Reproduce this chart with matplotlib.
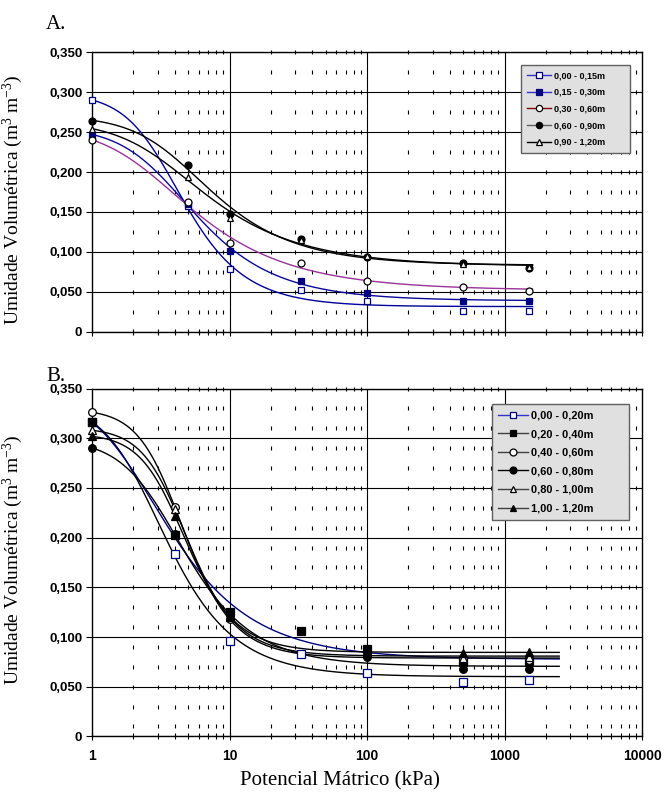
import numpy as np
import matplotlib
matplotlib.use("Agg")
import matplotlib.pyplot as plt
from matplotlib.lines import Line2D
from matplotlib.ticker import FixedLocator, NullFormatter

# ---------------- data ----------------
suction_a = [1, 5, 10, 33, 100, 500, 1500]
labels_a = ["0,00 - 0,15m", "0,15 - 0,30m", "0,30 - 0,60m", "0,60 - 0,90m", "0,90 - 1,20m"]
a_000_015 = [0.290, 0.157, 0.078, 0.052, 0.039, 0.026, 0.026]
a_015_030 = [0.247, 0.160, 0.101, 0.064, 0.048, 0.038, 0.038]
a_030_060 = [0.240, 0.162, 0.111, 0.086, 0.064, 0.056, 0.051]
a_060_090 = [0.264, 0.209, 0.147, 0.116, 0.093, 0.086, 0.080]
a_090_120 = [0.254, 0.194, 0.143, 0.115, 0.095, 0.085, 0.081]

suction_b = [1, 4, 10, 33, 100, 500, 1500]
labels_b = ["0,00 - 0,20m", "0,20 - 0,40m", "0,40 - 0,60m", "0,60 - 0,80m", "0,80 - 1,00m", "1,00 - 1,20m"]
nan = np.nan
b_000_020 = [0.316, 0.1835, 0.0955, 0.083, 0.064, 0.055, 0.057]
b_020_040 = [0.316, 0.203, 0.125, 0.106, 0.088, 0.075, 0.076]
b_040_060 = [0.326, 0.231, 0.118, nan, 0.082, 0.078, 0.077]
b_060_080 = [0.290, 0.204, 0.122, nan, 0.080, 0.068, 0.068]
b_080_100 = [0.308, 0.2285, 0.120, nan, 0.084, 0.079, 0.080]
b_100_120 = [0.302, 0.222, 0.121, nan, 0.085, 0.084, 0.085]

yticks = [0, 0.05, 0.10, 0.15, 0.20, 0.25, 0.30, 0.35]
ytick_labels = ["0", "0,050", "0,100", "0,150", "0,200", "0,250", "0,300", "0,350"]
xticks = [1, 10, 100, 1000, 10000]
xtick_labels = ["1", "10", "100", "1000", "10000"]


# ------------- van Genuchten fit (least squares on the read points) -------------
def vg_fit(h, y):
    h = np.asarray(h, float)
    y = np.asarray(y, float)
    m = ~np.isnan(y)
    h, y = h[m], y[m]
    A = np.logspace(-2.5, 1, 260)[:, None, None]
    N = np.linspace(1.05, 6, 260)[None, :, None]
    f = (1 + (A * h) ** N) ** (-(1 - 1 / N))
    g = 1 - f
    Sgg = (g * g).sum(-1); Sff = (f * f).sum(-1); Sgf = (g * f).sum(-1)
    Sgy = (g * y).sum(-1); Sfy = (f * y).sum(-1)
    det = Sgg * Sff - Sgf ** 2
    with np.errstate(all="ignore"):
        tr = (Sff * Sgy - Sgf * Sfy) / det
        ts = (Sgg * Sfy - Sgf * Sgy) / det
        res = ((tr[..., None] * g + ts[..., None] * f - y) ** 2).sum(-1)
    res = np.where((tr >= 0) & np.isfinite(res), res, np.inf)
    i, j = np.unravel_index(np.argmin(res), res.shape)
    return tr[i, j], ts[i, j], A[i, 0, 0], N[0, j, 0]


def vg(h, p):
    tr, ts, a, n = p
    return tr + (ts - tr) * (1 + (a * h) ** n) ** (-(1 - 1 / n))


# ---------------- figure ----------------
plt.rcParams["font.family"] = ["Liberation Sans", "DejaVu Sans"]
fig = plt.figure(figsize=(6.64, 7.92), dpi=100)
W, H = 664, 792
axA = fig.add_axes([92 / W, 1 - 331.7 / H, 550 / W, 279.3 / H])
axB = fig.add_axes([92 / W, 1 - 736.4 / H, 550 / W, 347.9 / H])

minor_x = [k * 10 ** d for d in range(0, 4) for k in range(2, 10)]


def style_axis(ax, yminor, show_xlabels):
    ax.set_xscale("log")
    ax.set_xlim(1, 10000)
    ax.set_ylim(0, 0.35)
    ax.set_facecolor("white")
    for ys in yticks:
        ax.axhline(ys, color="black", lw=0.8, zorder=1)
    for xs in xticks[1:-1]:
        ax.axvline(xs, color="black", lw=0.8, zorder=1)
    xx, yy = np.meshgrid(minor_x, yminor)
    ax.plot(xx.ravel(), yy.ravel(), ls="none", marker="|", ms=3.4, mew=0.8,
            color="black", zorder=1, clip_on=False)
    ax.yaxis.set_major_locator(FixedLocator(yticks))
    ax.set_yticklabels(ytick_labels, fontsize=9.5, fontweight="bold")
    ax.xaxis.set_major_locator(FixedLocator(xticks))
    ax.xaxis.set_minor_locator(FixedLocator(minor_x))
    ax.xaxis.set_minor_formatter(NullFormatter())
    if show_xlabels:
        ax.set_xticklabels(xtick_labels, fontsize=10, fontweight="bold")
    else:
        ax.set_xticklabels([])
    ax.tick_params(axis="y", which="major", direction="out", length=4, width=0.8, pad=3)
    ax.tick_params(axis="x", which="major", direction="inout", length=6, width=0.8, pad=6)
    ax.tick_params(axis="x", which="minor", direction="inout", length=4, width=0.8)
    for s in ax.spines.values():
        s.set_color("black")
        s.set_linewidth(1.0)


style_axis(axA, np.arange(0, 0.351, 0.025), False)
style_axis(axB, np.arange(0.01, 0.351, 0.02), True)

# ---- panel A ----
series_a = [a_000_015, a_015_030, a_030_060, a_060_090, a_090_120]
curve_col_a = ["#000099", "#0a0a99", "#993399", "black", "black"]
mk_a = [dict(marker="s", mfc="white", mec="#000080"),
        dict(marker="s", mfc="#000080", mec="#000080"),
        dict(marker="o", mfc="white", mec="black"),
        dict(marker="o", mfc="black", mec="black"),
        dict(marker="^", mfc="white", mec="black")]
leg_line_a = ["#3333cc", "#3333cc", "#800000", "#606060", "black"]
hA = np.logspace(0, np.log10(1600), 300)
for ys, cc in zip(series_a, curve_col_a):
    p = vg_fit(suction_a, ys)
    axA.plot(hA, vg(hA, p), color=cc, lw=1.0, zorder=2)
for ys, mk in zip(series_a, mk_a):
    axA.plot(suction_a, ys, ls="none", ms=5, mew=0.9, zorder=4, clip_on=False, **mk)

handles_a = [Line2D([], [], color=lc, lw=1.0, ms=4.5, mew=0.9, **mk) for lc, mk in zip(leg_line_a, mk_a)]
legA = axA.legend(handles_a, labels_a, loc="upper left", bbox_to_anchor=(0.78, 0.955, 0.198, 0.0),
                  mode="expand", prop=dict(size=6.5, weight="bold"), labelspacing=0.85,
                  handlelength=2.6, handletextpad=0.3, borderpad=0.7, fancybox=False,
                  framealpha=1, borderaxespad=0)
legA.get_frame().set_facecolor("#e0e0e0")
legA.get_frame().set_edgecolor("#606060")
legA.get_frame().set_linewidth(1.0)
legA.set_zorder(6)

# ---- panel B ----
series_b = [b_000_020, b_020_040, b_040_060, b_060_080, b_080_100, b_100_120]
curve_col_b = ["black", "#000080", "black", "black", "black", "black"]
mk_b = [dict(marker="s", mfc="white", mec="#000080"),
        dict(marker="s", mfc="black", mec="black"),
        dict(marker="o", mfc="white", mec="black"),
        dict(marker="o", mfc="black", mec="black"),
        dict(marker="^", mfc="white", mec="black"),
        dict(marker="^", mfc="black", mec="black")]
leg_line_b = ["#3333cc", "#404040", "#404040", "black", "#404040", "#404040"]
hB = np.logspace(0, np.log10(2500), 300)
for ys, cc in zip(series_b, curve_col_b):
    p = vg_fit(suction_b, ys)
    axB.plot(hB, vg(hB, p), color=cc, lw=1.0, zorder=2)
for ys, mk in zip(series_b, mk_b):
    axB.plot(suction_b, ys, ls="none", ms=5.5, mew=0.9, zorder=4, clip_on=False, **mk)

handles_b = [Line2D([], [], color=lc, lw=1.0, ms=5, mew=0.9, **mk) for lc, mk in zip(leg_line_b, mk_b)]
legB = axB.legend(handles_b, labels_b, loc="upper left", bbox_to_anchor=(0.727, 0.9555, 0.25, 0.0),
                  mode="expand", prop=dict(size=7.9, weight="bold"), labelspacing=0.78,
                  handlelength=2.7, handletextpad=0.3, borderpad=0.6, fancybox=False,
                  framealpha=1, borderaxespad=0)
legB.get_frame().set_facecolor("#e0e0e0")
legB.get_frame().set_edgecolor("#606060")
legB.get_frame().set_linewidth(1.0)
legB.set_zorder(6)

# ---- texts ----
serif = ["Liberation Serif", "DejaVu Serif"]
fig.text(46 / W, 1 - 29 / H, "A.", family=serif, fontsize=15, ha="left", va="baseline")
fig.text(46 / W, 1 - 381 / H, "B.", family=serif, fontsize=15, ha="left", va="baseline")
ylab = "Umidade Volumétrica (m$\\mathregular{^3}$ m$\\mathregular{^{-3}}$)"
fig.text(13 / W, 1 - 200 / H, ylab, family=serif, fontsize=14, rotation=90, ha="center", va="center")
fig.text(13 / W, 1 - 560 / H, ylab, family=serif, fontsize=14, rotation=90, ha="center", va="center")
fig.text(340 / W, 1 - 781 / H, "Potencial Mátrico (kPa)", family=serif, fontsize=15, ha="center", va="center")

fig.savefig("out.png", dpi=100, facecolor="white")
